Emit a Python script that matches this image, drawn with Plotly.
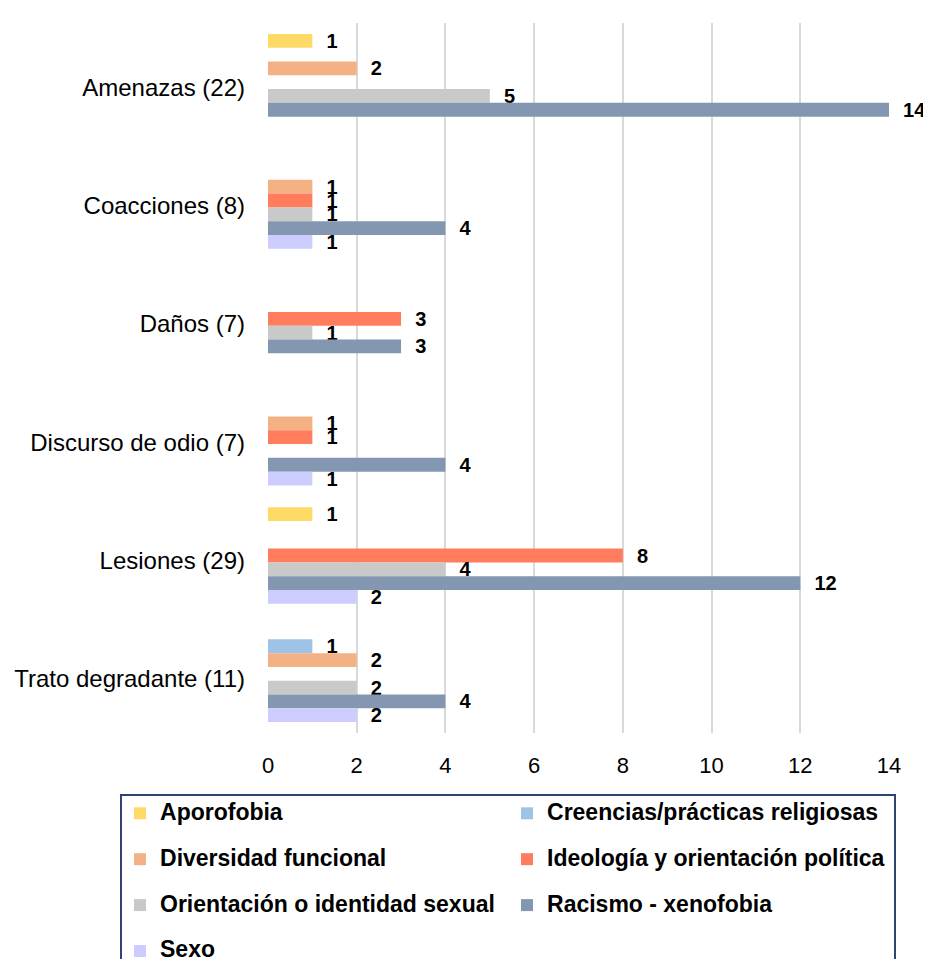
import pandas as pd
import plotly.express as px

delitos = ['Amenazas (22)', 'Coacciones (8)', 'Daños (7)', 'Discurso de odio (7)',
           'Lesiones (29)', 'Trato degradante (11)']
motivos = ['Aporofobia', 'Creencias/prácticas religiosas', 'Diversidad funcional',
           'Ideología y orientación política', 'Orientación o identidad sexual',
           'Racismo - xenofobia', 'Sexo']

# casos por delito (mismo orden que "delitos"), 0 = sin barra
aporofobia = [1, 0, 0, 0, 1, 0]
creencias = [0, 0, 0, 0, 0, 1]
diversidad = [2, 1, 0, 1, 0, 2]
ideologia = [0, 1, 3, 1, 8, 0]
orientacion = [5, 1, 1, 0, 4, 2]
racismo = [14, 4, 3, 4, 12, 4]
sexo = [0, 1, 0, 1, 2, 2]

colores = ['#FFD966', '#9DC3E6', '#F4B183', '#FF7C5C', '#C9C9C9', '#8497B0', '#CCCCFF']

series = [aporofobia, creencias, diversidad, ideologia, orientacion, racismo, sexo]
filas = []
for motivo, valores in zip(motivos, series):
    for delito, v in zip(delitos, valores):
        if v > 0:
            filas.append({'Delito': delito, 'Motivo': motivo, 'Casos': v})
df = pd.DataFrame(filas)

fig = px.bar(
    df,
    x='Casos',
    y='Delito',
    color='Motivo',
    orientation='h',
    barmode='group',
    category_orders={'Delito': delitos, 'Motivo': motivos},
    color_discrete_sequence=colores,
    template='plotly_white',
)

fig.update_traces(
    texttemplate='\u00a0\u00a0%{x}',
    textposition='outside',
    textfont=dict(family='Liberation Sans, Arial', size=20, color='black', weight='bold'),
    cliponaxis=False,
    constraintext='none',
    marker_line_width=0,
)
# texto de la leyenda grande, con una segunda línea vacía para separar las filas
fig.for_each_trace(
    lambda t: t.update(name='<span style="font-size:23px">' + t.name + '</span><br>&nbsp;')
)

# la página tiene 8px de margen en el body -> figura de 923 x 951
fig.update_layout(
    width=923,
    height=951,
    margin=dict(l=260, r=42, t=15, b=226, autoexpand=False),
    bargap=0.184,
    bargroupgap=0,
    paper_bgcolor='white',
    plot_bgcolor='white',
    font=dict(family='Liberation Sans, Arial', size=24, color='black'),
    legend=dict(
        title_text='',
        orientation='h',
        x=-0.2383,
        xanchor='left',
        y=-0.086,
        yanchor='top',
        entrywidth=342,
        valign='top',
        bordercolor='#2F4470',
        borderwidth=2,
        font=dict(family='Liberation Sans, Arial', size=16.5, color='black', weight='bold'),
    ),
)

fig.update_xaxes(
    range=[0, 14],
    dtick=2,
    showgrid=True,
    gridcolor='#D9D9D9',
    gridwidth=2,
    zeroline=False,
    showline=False,
    title_text='',
    tickfont=dict(size=22),
    ticklabelstandoff=17,
)
fig.update_yaxes(
    categoryorder='array',
    categoryarray=delitos,
    autorange='reversed',
    showgrid=False,
    showline=False,
    title_text='',
    ticklabelstandoff=22,
    ticklabelshift=-5,
)

fig.write_html('out.html')
